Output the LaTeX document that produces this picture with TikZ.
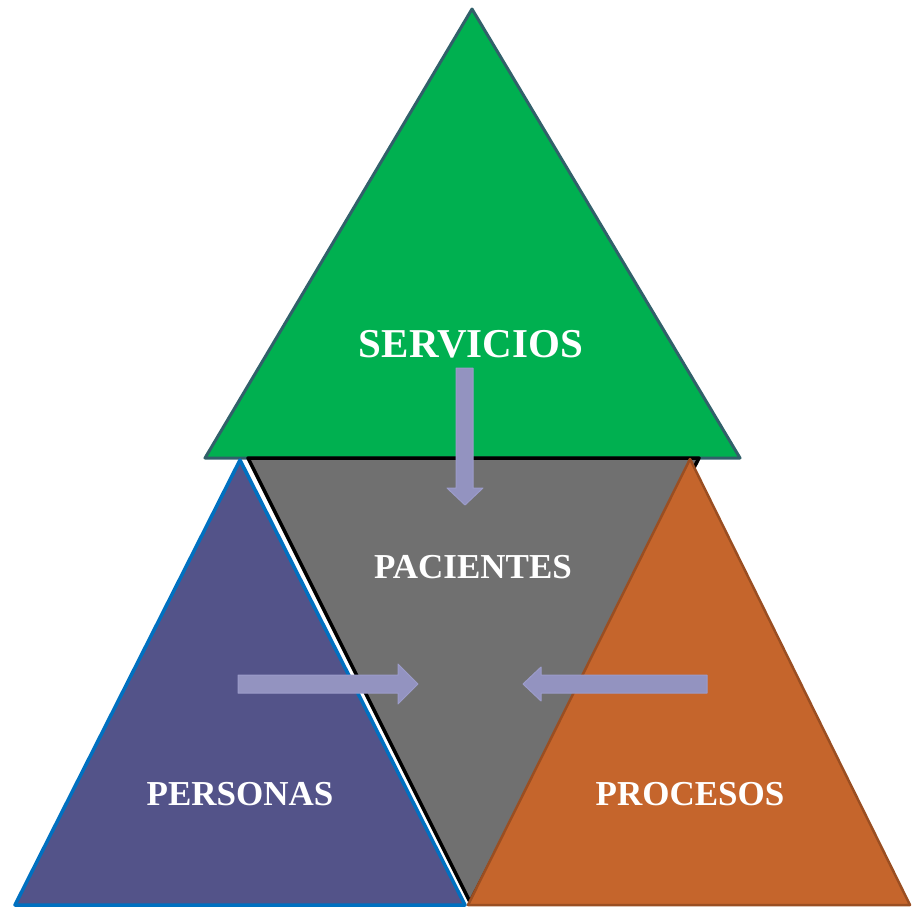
\documentclass[tikz,border=0pt]{standalone}
\usepackage{fontspec}
\setmainfont{Liberation Serif}
\definecolor{grn}{HTML}{00B050}
\definecolor{grnline}{HTML}{31606A}
\definecolor{gry}{HTML}{707070}
\definecolor{blu}{HTML}{535389}
\definecolor{bluline}{HTML}{0070C0}
\definecolor{org}{HTML}{C5652C}
\definecolor{orgline}{HTML}{9A4E22}
\definecolor{arrfill}{HTML}{9393C0}
\definecolor{arrline}{HTML}{9C9CCA}
\tikzset{
  lbl/.style={text=white, font=\bfseries\fontsize{35}{40}\selectfont, inner sep=0pt},
  blockarrow/.style={fill=arrfill, draw=arrline, line width=1pt, line join=round}
}
\begin{document}
\begin{tikzpicture}[x=1pt,y=-1pt]
\useasboundingbox (0,0) rectangle (912,908);
% green
\filldraw[fill=grn, draw=grnline, line width=3pt, line join=round] (472,9) -- (740,458) -- (205,458) -- cycle;
% gray
\filldraw[fill=gry, draw=black, line width=3.5pt, line join=round] (248,458) -- (699,458) -- (470,902) -- cycle;
% blue
\filldraw[fill=blu, draw=bluline, line width=3.5pt, line join=round] (240,460) -- (465,905) -- (15,905) -- cycle;
% orange
\filldraw[fill=org, draw=orgline, line width=2.5pt, line join=round] (690,459) -- (910,905) -- (468,905) -- cycle;
% labels
\node[lbl, font=\bfseries\fontsize{41}{46}\selectfont] (serv) at (471,344) {SERVICIOS};
\node[lbl] (pac) at (473,567) {PACIENTES};
\node[lbl] (pers) at (240,794) {PERSONAS};
\node[lbl] (proc) at (690,794) {PROCESOS};
% arrows
\coordinate (dtip) at (465,505);
\coordinate (rtip) at (418,684);
\coordinate (ltip) at (523,684);
\draw[blockarrow] (456,368) -- (473,368) -- (473,488) -- (483,488) -- (dtip) -- (447,488) -- (456,488) -- cycle;
\draw[blockarrow] (238,675) -- (398,675) -- (398,664) -- (rtip) -- (398,704) -- (398,693) -- (238,693) -- cycle;
\draw[blockarrow] (707,675) -- (541,675) -- (541,667) -- (ltip) -- (541,701) -- (541,693) -- (707,693) -- cycle;
\end{tikzpicture}
\end{document}
